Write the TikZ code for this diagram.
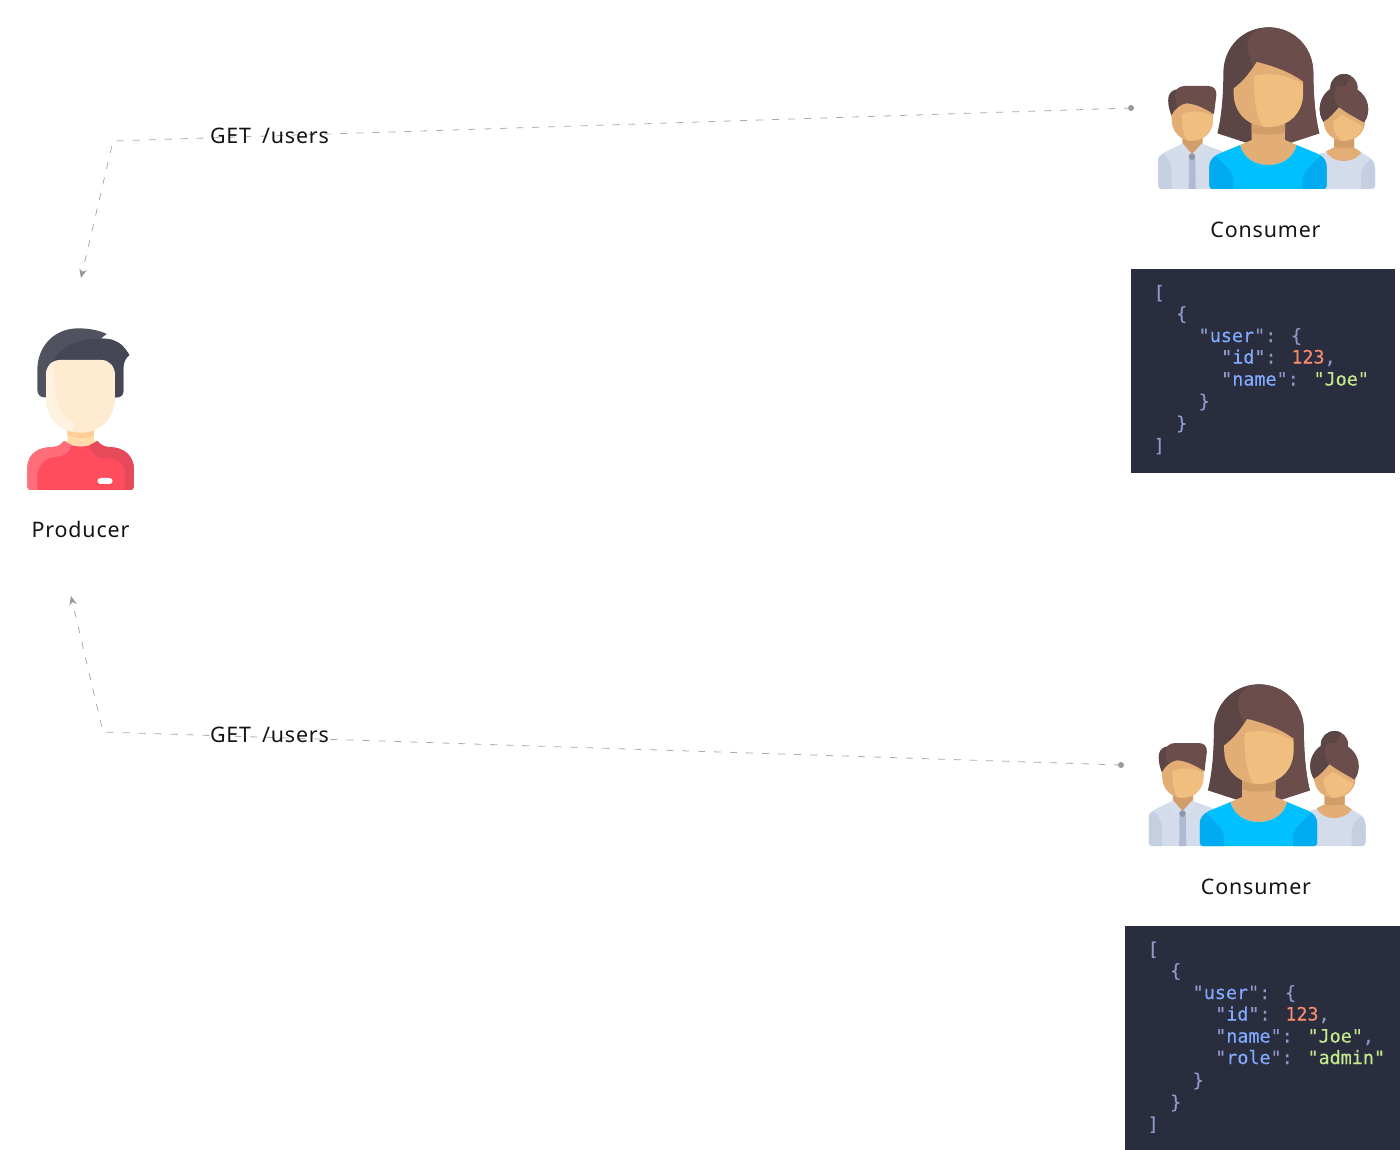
\documentclass[tikz,border=0pt]{standalone}
\usepackage{fontspec}
\usetikzlibrary{arrows.meta}
\newfontfamily\labelfont[LetterSpace=4,WordSpace=1.7]{Noto Sans}
\newfontfamily\codefont[FakeBold=0.4]{DejaVu Sans Mono}
\definecolor{codebg}{HTML}{292D3E}
\definecolor{cpunct}{HTML}{8F98C8}
\definecolor{ckey}{HTML}{82AAFF}
\definecolor{cnum}{HTML}{F78C6C}
\definecolor{cstr}{HTML}{C3E88D}
\definecolor{hairA}{HTML}{5C4545}
\definecolor{hairB}{HTML}{6B4D4B}
\definecolor{skinA}{HTML}{E2AE76}
\definecolor{skinB}{HTML}{F0BF80}
\definecolor{skinC}{HTML}{D19E6A}
\definecolor{shirtA}{HTML}{D4DCEC}
\definecolor{shirtB}{HTML}{C5CFE2}
\definecolor{tieC}{HTML}{AFBBD3}
\definecolor{blueA}{HTML}{00C0FF}
\definecolor{blueB}{HTML}{00ABF0}
\definecolor{lineC}{HTML}{ABABAB}
\definecolor{tipC}{HTML}{999999}
\newcommand{\cP}[1]{\textcolor{cpunct}{#1}}
\newcommand{\cK}[1]{\textcolor{cpunct}{"}\textcolor{ckey}{#1}\textcolor{cpunct}{"}}
\newcommand{\cN}[1]{\textcolor{cnum}{#1}}
\newcommand{\cS}[1]{\textcolor{cstr}{#1}}
\newcommand{\codeln}[4]{\node[codetext] (#1) at (#2,#3) {#4};}
\newcommand{\crowdicon}[2]{%
\begin{scope}[shift={(#1,#2)},x=.33333pt,y=-.33333pt]
% right woman
\fill[shirtA] (540,430) -- (575,425) .. controls (590,450) and (640,450) .. (660,425) -- (685,440) .. controls (698,448) and (705,460) .. (705,475) -- (705,527) .. controls (705,533) and (701,537) .. (695,537) -- (540,537) -- cycle;
\fill[shirtB] (663,537) -- (663,490) .. controls (665,470) and (680,457) .. (695,448) .. controls (702,456) and (705,465) .. (705,475) -- (705,527) .. controls (705,533) and (701,537) .. (695,537) -- cycle;
\fill[skinA] (558,424) -- (582,412) -- (582,380) -- (642,380) -- (642,412) -- (664,427) .. controls (645,460) and (580,465) .. (558,424) -- cycle;
\fill[skinC] (582,385) -- (642,385) -- (642,412) .. controls (625,416) and (600,416) .. (582,412) -- cycle;
\fill[hairB] (612,233) circle (41);
\fill[hairA] (571,233) arc (180:300:41) -- (600,262) -- (571,240) -- cycle;
\fill[hairB] (612,298) ellipse (73 and 71);
\fill[hairA] (590,229) .. controls (560,235) and (539,265) .. (539,298) .. controls (539,320) and (550,340) .. (568,352) -- (600,300) .. controls (585,280) and (575,250) .. (590,229) -- cycle;
\fill[skinA] (551,335) .. controls (570,325) and (585,305) .. (597,292) .. controls (620,310) and (650,325) .. (675,340) .. controls (672,370) and (645,393) .. (612,393) .. controls (578,393) and (552,368) .. (551,335) -- cycle;
\fill[skinB] (580,335) -- (606,314) .. controls (625,325) and (645,335) .. (668,350) .. controls (660,378) and (635,392) .. (605,392) .. controls (585,375) and (578,355) .. (580,335) -- cycle;
% left man
\fill[shirtA] (55,445) .. controls (55,436) and (70,428) .. (120,405) -- (195,405) -- (250,425) -- (250,537) -- (65,537) .. controls (58,537) and (55,533) .. (55,527) -- cycle;
\fill[shirtB] (55,445) -- (70,432) .. controls (85,445) and (95,465) .. (95,490) -- (95,537) -- (65,537) .. controls (58,537) and (55,533) .. (55,527) -- cycle;
\fill[skinC] (127,380) -- (188,380) -- (188,408) -- (156,433) -- (127,408) -- cycle;
\fill[shirtB!70!white] (115,408) -- (128,400) -- (156,433) -- (135,445) -- cycle;
\fill[shirtB!70!white] (198,408) -- (186,400) -- (156,433) -- (177,445) -- cycle;
\fill[tieC] (147,447) -- (166,447) -- (167,537) -- (146,537) -- cycle;
\fill[tieC!80!black] (156,440) circle (10);
\fill[hairA] (95,318) .. controls (85,295) and (80,265) .. (90,250) .. controls (98,240) and (108,238) .. (118,236) -- (150,300) -- cycle;
\fill[hairB] (105,255) .. controls (105,240) and (115,228) .. (135,228) -- (205,228) .. controls (222,228) and (230,240) .. (229,255) -- (222,312) -- (150,295) -- (110,285) -- cycle;
\fill[skinA] (95,315) .. controls (105,295) and (125,282) .. (140,280) .. controls (165,282) and (195,295) .. (219,312) -- (219,330) .. controls (219,365) and (192,393) .. (157,393) .. controls (122,393) and (95,365) .. (95,330) -- cycle;
\fill[skinB] (126,312) .. controls (160,298) and (195,305) .. (217,318) -- (219,332) .. controls (218,365) and (192,392) .. (157,392) -- (142,392) .. controls (128,370) and (125,345) .. (126,312) -- cycle;
% centre woman
\fill[hairA] (232,370) .. controls (245,320) and (250,250) .. (250,190) .. controls (250,110) and (310,52) .. (385,52) .. controls (460,52) and (520,110) .. (520,190) .. controls (520,250) and (525,320) .. (538,370) -- (440,402) -- (330,402) -- cycle;
\fill[hairB] (322,105) .. controls (325,75) and (350,52) .. (385,52) .. controls (460,52) and (520,110) .. (520,190) .. controls (520,250) and (525,320) .. (538,370) -- (440,402) -- (430,250) -- (335,160) .. controls (327,140) and (322,120) .. (322,105) -- cycle;
\fill[skinA] (300,405) -- (335,390) -- (335,335) -- (435,335) -- (435,390) -- (470,405) .. controls (460,445) and (425,465) .. (385,465) .. controls (345,465) and (310,445) .. (300,405) -- cycle;
\fill[skinC] (335,340) -- (435,340) -- (435,368) .. controls (405,376) and (365,376) .. (335,368) -- cycle;
\fill[skinA] (281,235) .. controls (310,215) and (335,180) .. (350,156) .. controls (390,165) and (450,185) .. (489,215) -- (489,250) .. controls (489,310) and (445,351) .. (385,351) .. controls (325,351) and (281,310) .. (281,250) -- cycle;
\fill[skinB] (343,198) .. controls (390,185) and (445,195) .. (488,222) -- (489,250) .. controls (489,310) and (445,351) .. (385,351) -- (368,350) .. controls (345,310) and (340,250) .. (343,198) -- cycle;
\fill[blueA] (208,470) .. controls (208,450) and (220,440) .. (235,432) -- (300,405) .. controls (310,445) and (345,465) .. (385,465) .. controls (425,465) and (460,445) .. (470,405) -- (535,432) .. controls (550,440) and (560,450) .. (560,470) -- (560,527) .. controls (560,533) and (556,537) .. (550,537) -- (218,537) .. controls (212,537) and (208,533) .. (208,527) -- cycle;
\fill[blueB] (208,470) .. controls (208,455) and (217,445) .. (226,438) -- (268,480) .. controls (276,490) and (280,500) .. (280,512) -- (280,537) -- (218,537) .. controls (212,537) and (208,533) .. (208,527) -- cycle;
\fill[blueB] (560,470) .. controls (560,455) and (551,445) .. (542,438) -- (500,480) .. controls (492,490) and (488,500) .. (488,512) -- (488,537) -- (550,537) .. controls (556,537) and (560,533) .. (560,527) -- cycle;
\end{scope}}
\newcommand{\producericon}[2]{%
\begin{scope}[shift={(#1,#2)},x=.33333pt,y=-.33333pt]
\fill[fill={rgb,255:red,80;green,82;blue,96}] (82,240) -- (82,175) .. controls (85,105) and (135,55) .. (205,55) .. controls (240,55) and (270,62) .. (290,72) -- (272,86) .. controls (300,85) and (320,92) .. (335,105) .. controls (345,115) and (352,125) .. (358,135) .. controls (345,145) and (340,160) .. (340,175) -- (340,245) .. controls (340,256) and (330,263) .. (318,262) -- (105,262) .. controls (92,263) and (82,254) .. (82,240) -- cycle;
\fill[fill={rgb,255:red,70;green,71;blue,84}] (125,160) .. controls (145,115) and (195,85) .. (272,86) .. controls (300,85) and (320,92) .. (335,105) .. controls (345,115) and (352,125) .. (358,135) .. controls (345,145) and (340,160) .. (340,175) -- (340,245) .. controls (340,256) and (330,263) .. (318,262) -- (125,262) -- cycle;
\fill[fill={rgb,255:red,255;green,220;blue,170}] (172,350) -- (252,350) -- (252,392) -- (262,393) .. controls (240,415) and (185,415) .. (162,393) -- (172,392) -- cycle;
\fill[fill={rgb,255:red,255;green,205;blue,150}] (172,360) -- (252,360) -- (252,375) .. controls (225,388) and (200,388) .. (172,375) -- cycle;
\fill[fill={rgb,255:red,255;green,77;blue,94}] (52,470) .. controls (55,430) and (85,411) .. (130,411) .. controls (145,410) and (155,402) .. (162,393) .. controls (185,415) and (240,415) .. (262,393) .. controls (270,402) and (280,410) .. (295,411) .. controls (340,411) and (372,435) .. (372,480) -- (372,530) .. controls (372,536) and (368,540) .. (362,540) -- (62,540) .. controls (56,540) and (52,536) .. (52,530) -- cycle;
\fill[fill={rgb,255:red,255;green,110;blue,122}] (52,470) .. controls (55,430) and (85,411) .. (130,411) .. controls (145,410) and (155,402) .. (162,393) -- (185,405) .. controls (180,425) and (165,438) .. (140,440) .. controls (105,442) and (82,465) .. (82,500) -- (82,540) -- (62,540) .. controls (56,540) and (52,536) .. (52,530) -- cycle;
\fill[fill={rgb,255:red,230;green,74;blue,90}] (262,393) .. controls (270,402) and (280,410) .. (295,411) .. controls (340,411) and (372,435) .. (372,480) -- (372,530) .. controls (372,536) and (368,540) .. (362,540) -- (345,540) -- (345,490) .. controls (345,460) and (325,445) .. (290,445) .. controls (265,445) and (240,435) .. (240,405) -- cycle;
\fill[white] (272,504) -- (298,504) .. controls (311,504) and (311,522) .. (298,522) -- (272,522) .. controls (259,522) and (259,504) .. (272,504) -- cycle;
\fill[fill={rgb,255:red,255;green,235;blue,210}] (108,195) .. controls (108,170) and (125,150) .. (150,150) -- (275,150) .. controls (298,150) and (315,170) .. (315,195) -- (315,262) .. controls (315,325) and (270,368) .. (212,368) .. controls (152,368) and (108,325) .. (108,262) -- cycle;
\fill[fill={rgb,255:red,255;green,242;blue,225}] (108,195) .. controls (108,175) and (118,160) .. (130,155) .. controls (135,220) and (125,310) .. (195,340) .. controls (192,350) and (190,355) .. (182,364) .. controls (140,352) and (108,315) .. (108,262) -- cycle;
\end{scope}}
\tikzset{
  px/.style={x=1pt,y=-1pt},
  lbl/.style={anchor=base,inner sep=0pt,font=\fontsize{21.4}{26}\labelfont,text=black!92},
  dashline/.style={draw=lineC,line width=.8pt,dash pattern=on 7pt off 9pt},
  arrowed/.style={dashline,-{Stealth[length=9pt,width=7.5pt,color=tipC]}},
  startdot/.style={circle,fill=tipC,inner sep=0pt,minimum size=6pt},
  codebox/.style={fill=codebg},
  codetext/.style={anchor=base west,inner sep=0pt,font=\fontsize{18.4}{22}\codefont}
}
\begin{document}
\begin{tikzpicture}[px]
\useasboundingbox (0,0) rectangle (1400,1150);
\fill[white] (0,0) rectangle (1400,1150);
\crowdicon{1140}{10}
\crowdicon{1130.5}{667}
\producericon{10}{310}
\node[lbl] (consumerA) at (1265.5,238) {Consumer};
\node[lbl] (consumerB) at (1256,894) {Consumer};
\node[lbl] (producer) at (80.5,537) {Producer};
% boxes
\fill[codebox] (1131,269) rectangle (1395,473);
\fill[codebox] (1125,926) rectangle (1400,1150);
\codeln{a1}{1153.5}{299}{\cP{[}}
\codeln{a2}{1176}{320}{\cP{\{}}
\codeln{a3}{1198.5}{342}{\cK{user}\cP{: \{}}
\codeln{a4}{1221}{363.5}{\cK{id}\cP{: }\cN{123}\cP{,}}
\codeln{a5}{1221}{385.5}{\cK{name}\cP{: }\cS{"Joe"}}
\codeln{a6}{1198.5}{407.5}{\cP{\}}}
\codeln{a7}{1176}{429.5}{\cP{\}}}
\codeln{a8}{1153.5}{452}{\cP{]}}
\codeln{b1}{1147.5}{955.5}{\cP{[}}
\codeln{b2}{1170}{977}{\cP{\{}}
\codeln{b3}{1192.5}{999}{\cK{user}\cP{: \{}}
\codeln{b4}{1215}{1020.5}{\cK{id}\cP{: }\cN{123}\cP{,}}
\codeln{b5}{1215}{1042.5}{\cK{name}\cP{: }\cS{"Joe"}\cP{,}}
\codeln{b6}{1215}{1064}{\cK{role}\cP{: }\cS{"admin"}}
\codeln{b7}{1192.5}{1086.5}{\cP{\}}}
\codeln{b8}{1170}{1108.5}{\cP{\}}}
\codeln{b9}{1147.5}{1130.5}{\cP{]}}
% connectors
\node[startdot] (dotA) at (1131,108) {};
\node[startdot] (dotB) at (1121,765) {};
\coordinate (kneeA) at (113,141);
\coordinate (kneeB) at (103,732);
\coordinate (tipA) at (81,278);
\coordinate (tipB) at (71,596);
\draw[arrowed] (dotA.center) -- (kneeA) -- (tipA);
\draw[arrowed] (dotB.center) -- (kneeB) -- (tipB);
\node[lbl] (getA) at (269.5,144) {GET /users};
\node[lbl] (getB) at (269.5,742) {GET /users};
\end{tikzpicture}
\end{document}
